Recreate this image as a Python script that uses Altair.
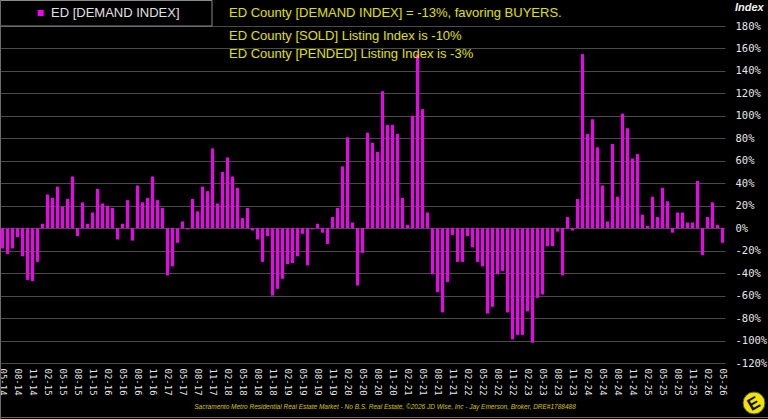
import altair as alt
import pandas as pd

# Monthly demand index values (%), 05-14 .. 05-26
values = [
    -18, -23, -18, -8, -25, -46, -47, -30, 4, 30, 27, 37,
    19, 26, 46, -7, 23, 4, 14, 35, 22, 20, 18, -10,
    4, 25, -11, 38, 23, 27, 46, 25, 18, -42, -34, -13,
    6, -1, 26, 15, 37, 33, 71, 22, 50, 63, 46, 36,
    9, 18, -2, -10, -30, -7, -60, -54, -45, -32, -31, -25,
    -5, -33, -1, 4, -4, -14, 10, 18, 55, 81, 5, -51,
    -22, 85, 76, 68, 122, 92, 92, 84, 27, 3, 100, 155,
    106, 14, -41, -57, -75, -48, -6, -30, -30, -7, -17, -30,
    -34, -76, -70, -41, -38, -75, -99, -95, -95, -74, -102, -62,
    -59, -16, -16, -3, -42, 10, -2, 26, 155, 84, 97, 72,
    38, 6, 75, 28, 102, 89, 62, 66, 12, 2, 28, 10,
    36, 24, -4, 14, 14, 5, 5, 42, -24, 10, 23, 3,
    -13,
]

months = []
yy, mm = 2014, 5
for _ in range(len(values)):
    months.append(f"{mm:02d}-{yy % 100:02d}")
    mm += 1
    if mm > 12:
        mm = 1
        yy += 1

tick_labels = months[::3]
y_ticks = list(range(-120, 181, 20))

legend_label = "ED [DEMAND INDEX]"
info_lines = [
    "ED County [DEMAND INDEX] = -13%, favoring BUYERS.",
    "ED County [SOLD] Listing Index is -10%",
    "ED County [PENDED] Listing Index is -3%",
]
footer = ("Sacramento Metro Residential Real Estate Market - No B.S. Real Estate, "
          "\u00a92026 JD Wise, Inc - Jay Emerson, Broker, DRE#1788488")

df = pd.DataFrame({"month": months, "value": values})

bars = alt.Chart(df).mark_bar(color="#f200f2").encode(
    x=alt.X(
        "month:O",
        sort=months,
        scale=alt.Scale(paddingInner=0.4, paddingOuter=0.2),
        axis=alt.Axis(
            values=tick_labels, labelAngle=90, labelFont="DejaVu Sans Mono",
            labelFontSize=9, labelColor="#e6e6e6", labelPadding=5,
            ticks=False, domain=False, title=None, grid=False, labelOverlap=False,
        ),
    ),
    y=alt.Y(
        "value:Q",
        scale=alt.Scale(domain=[-120, 180], nice=False),
        axis=alt.Axis(
            orient="right", values=y_ticks, labelExpr="datum.value + '%'",
            labelFont="DejaVu Sans Mono", labelFontSize=10.5, labelColor="#e6e6e6",
            labelPadding=10, labelAlign="left", labelFlush=False,
            ticks=False, domain=False, title=None, grid=True,
            gridColor="#4a4a4a", gridWidth=1,
        ),
    ),
)

one = pd.DataFrame({"d": [0]})

legend_box = alt.Chart(one).mark_rect(fill="black", stroke="#8a8a8a", strokeWidth=1).encode(
    x=alt.value(0.5), x2=alt.value(212), y=alt.value(-25.5), y2=alt.value(0)
)
legend_sq = alt.Chart(one).mark_square(color="#f200f2", size=36, opacity=1).encode(
    x=alt.value(40.7), y=alt.value(-13)
)
legend_txt = alt.Chart(pd.DataFrame({"t": [legend_label]})).mark_text(
    align="left", baseline="middle", font="Liberation Sans", fontSize=13, color="#e0e0e0"
).encode(text="t:N", x=alt.value(51), y=alt.value(-13))

info_layers = []
for txt, yy_pos in zip(info_lines, [-13, 10, 28]):
    info_layers.append(
        alt.Chart(pd.DataFrame({"t": [txt]})).mark_text(
            align="left", baseline="middle", font="Liberation Sans", fontSize=13, color="#e0e000"
        ).encode(text="t:N", x=alt.value(229), y=alt.value(yy_pos))
    )

index_title = alt.Chart(pd.DataFrame({"t": ["Index"]})).mark_text(
    align="left", baseline="middle", font="Liberation Sans", fontSize=11,
    fontWeight="bold", fontStyle="italic", color="#f0f0f0"
).encode(text="t:N", x=alt.value(735), y=alt.value(-18))

footer_txt = alt.Chart(pd.DataFrame({"t": [footer]})).mark_text(
    align="center", baseline="middle", font="Liberation Sans", fontSize=6.5,
    fontStyle="italic", color="#d8c400"
).encode(text="t:N", x=alt.value(385), y=alt.value(381))

logo_c = alt.Chart(one).mark_point(filled=True, color="#f2e400", size=480, opacity=1,
                                    stroke="#555555", strokeWidth=1).encode(
    x=alt.value(754), y=alt.value(377)
)
logo_e = alt.Chart(pd.DataFrame({"t": ["E"]})).mark_text(
    align="center", baseline="middle", font="Liberation Sans", fontSize=17,
    fontWeight="bold", color="#111111", angle=330
).encode(text="t:N", x=alt.value(754), y=alt.value(378))

frame_left = alt.Chart(one).mark_rule(color="#6a6a6a", strokeWidth=1).encode(
    x=alt.value(0.5), y=alt.value(-26), y2=alt.value(393)
)
frame_bottom = alt.Chart(one).mark_rule(color="#6a6a6a", strokeWidth=1).encode(
    x=alt.value(0), x2=alt.value(768), y=alt.value(391.5)
)

chart = alt.layer(
    bars, legend_box, legend_sq, legend_txt, *info_layers, index_title,
    footer_txt, logo_c, logo_e, frame_left, frame_bottom,
).properties(
    width=725, height=337,
    padding={"left": 0, "top": 26, "right": 43, "bottom": 56},
    autosize=alt.AutoSizeParams(type="none"),
    background="black",
).configure_view(stroke=None)

chart.save("out.html", embed_options={"renderer": "svg", "actions": False})
